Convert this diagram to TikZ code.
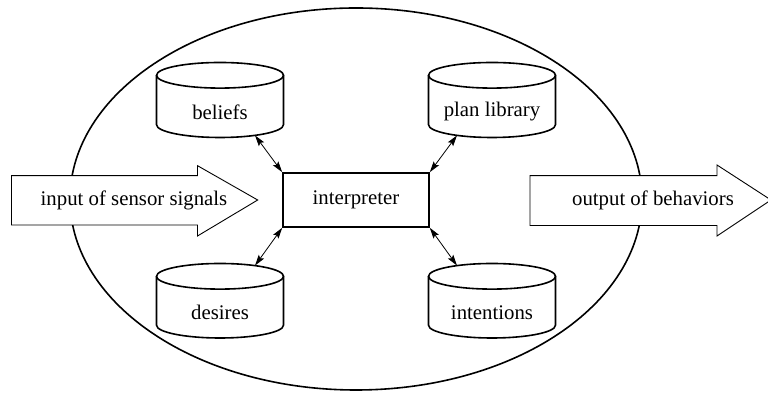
\documentclass[tikz,border=0pt]{standalone}
\usepackage{fontspec}
\setmainfont{Liberation Serif}
\usetikzlibrary{arrows.meta}

\tikzset{
  heavy/.style={line width=1.6pt},
  txt/.style={font=\fontsize{20.8}{24}\selectfont, inner sep=0pt},
  blockarrow/.style={draw, fill=white, line width=0.9pt, line join=miter},
  link/.style={line width=0.8pt, {Stealth[length=11pt,width=6.5pt,inset=2pt]}-{Stealth[length=11pt,width=6.5pt,inset=2pt]}},
}

% database cylinder: name, centre x, top y, bottom y, label
\newcommand\dbcylinder[5]{%
  \draw[heavy] (#2-63.5,#3-12.8) -- (#2-63.5,#4+12.8)
    arc[start angle=180,end angle=360,x radius=63.5,y radius=12.8]
    -- (#2+63.5,#3-12.8);
  \draw[heavy] (#2,#3-12.8) ellipse[x radius=63.5,y radius=12.8];
  \node[txt] (#1) at (#2,{(#3-25.6+#4)/2+1}) {#5};
  \coordinate (#1-top) at (#2+35,#3-12.8+10.7);
  \coordinate (#1-bot) at (#2+35,#4+12.8-10.7);
  \coordinate (#1-topl) at (#2-35,#3-12.8+10.7);
  \coordinate (#1-botl) at (#2-35,#4+12.8-10.7);
}

\begin{document}
\begin{tikzpicture}[x=1pt,y=1pt]
  \useasboundingbox (0,0) rectangle (768,395);

  % agent boundary
  \draw[heavy] (356,196) ellipse[x radius=286,y radius=191];

  % knowledge stores
  \dbcylinder{beliefs}{220}{332.5}{257.5}{beliefs}
  \dbcylinder{plan}{492}{332.5}{257.5}{plan library}
  \dbcylinder{desires}{220}{131.5}{57}{desires}
  \dbcylinder{intent}{492}{131.5}{57}{intentions}

  % reasoning engine
  \node[draw, heavy, minimum width=146pt, minimum height=54pt, inner sep=0pt,
        font=\fontsize{20.8}{24}\selectfont] (interp) at (356,195) {interpreter};

  \draw[link] (beliefs-bot) -- (interp.north west);
  \draw[link] (plan-botl) -- (interp.north east);
  \draw[link] (desires-top) -- (interp.south west);
  \draw[link] (intent-topl) -- (interp.south east);

  % sensing and acting
  \draw[blockarrow] (11.5,219.3) -- (197.5,219.3) -- (197.5,229.3) -- (257.7,195)
    -- (197.5,159) -- (197.5,170) -- (11.5,170) -- cycle;
  \node[txt] (input) at (134,195) {input of sensor signals};

  \draw[blockarrow] (530,219.3) -- (717,219.3) -- (717,230) -- (771,195)
    -- (717,159) -- (717,169.5) -- (530,169.5) -- cycle;
  \node[txt] (output) at (653,195) {output of behaviors};
\end{tikzpicture}
\end{document}
